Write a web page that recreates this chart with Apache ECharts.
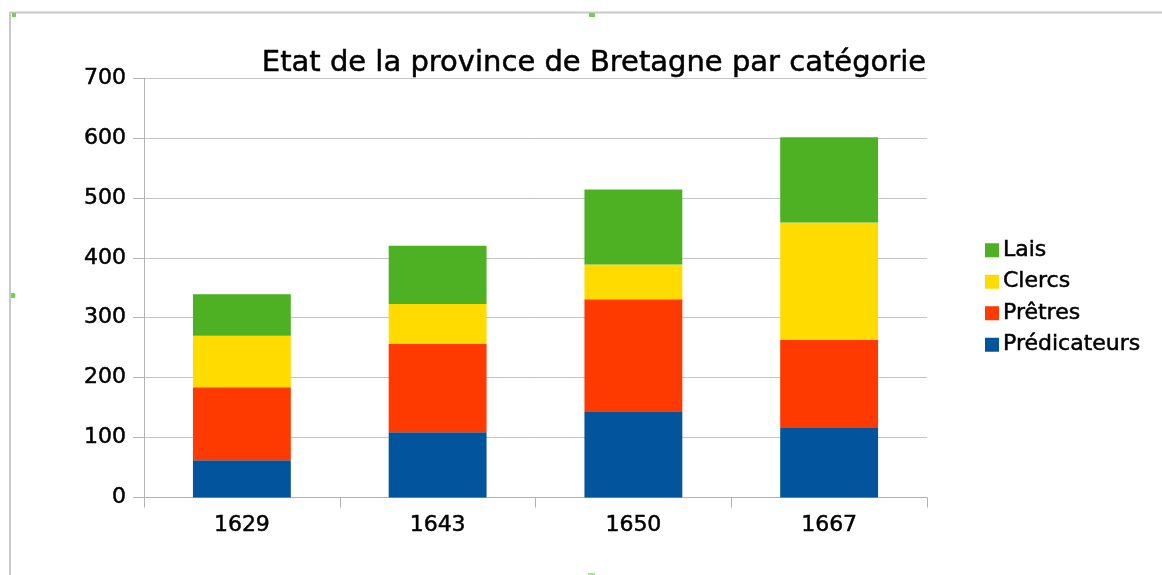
<!DOCTYPE html>
<html>
<head>
<meta charset="utf-8">
<script src="https://cdn.jsdelivr.net/npm/echarts@6/dist/echarts.min.js"></script>
<style>
  html, body { margin: 0; padding: 0; background: #fff; }
  #chart { width: 1162px; height: 575px; }
</style>
</head>
<body>
<div id="chart"></div>
<script>
  // données
  const years = ['1629', '1643', '1650', '1667']
  const predicateurs = [62, 109, 144, 116]
  const pretres = [122, 147, 187, 147]
  const clercs = [86, 67, 58, 196]
  const lais = [69, 97, 125, 142]
  const yTicks = [0, 100, 200, 300, 400, 500, 600, 700]

  const colors = {
    predicateurs: '#02559c',
    pretres: '#ff3a00',
    clercs: '#ffdb00',
    lais: '#4db123'
  }

  const font = 'DejaVu Sans, Arial, sans-serif'
  // léger épaississement du texte, comme sur l'original
  const txt = (size) => ({
    fontFamily: font,
    fontSize: size,
    color: '#000',
    textBorderColor: '#000',
    textBorderWidth: 0.5
  })

  const chart = echarts.init(document.getElementById('chart'))

  const mkSeries = (name, data, color) => ({
    name,
    type: 'bar',
    stack: 'total',
    data,
    barWidth: '50%',
    itemStyle: { color },
    emphasis: { disabled: true }
  })

  const option = {
    animation: false,
    title: {
      text: 'Etat de la province de Bretagne par catégorie',
      left: 589,
      textAlign: 'center',
      top: 44,
      textStyle: { ...txt(29), fontWeight: 'normal' }
    },
    legend: {
      orient: 'vertical',
      left: 980,
      top: 234,
      itemWidth: 14,
      itemHeight: 14,
      itemGap: 9,
      icon: 'rect',
      data: ['Lais', 'Clercs', 'Prêtres', 'Prédicateurs'],
      textStyle: { ...txt(22), padding: [0, 0, 0, -1] }
    },
    grid: {
      left: 144,
      right: 1162 - 927,
      top: 78,
      bottom: 575 - 497.5
    },
    xAxis: {
      type: 'category',
      data: years,
      axisLine: { lineStyle: { color: '#b3b3b3' } },
      axisTick: { show: true, alignWithLabel: false, length: 10, lineStyle: { color: '#b3b3b3' } },
      axisLabel: { ...txt(22), margin: 17 }
    },
    yAxis: {
      type: 'value',
      min: yTicks[0],
      max: yTicks[yTicks.length - 1],
      interval: 100,
      axisLine: { show: true, lineStyle: { color: '#b3b3b3' } },
      axisTick: { show: true, length: 11, lineStyle: { color: '#b3b3b3' } },
      axisLabel: { ...txt(22), margin: 18 },
      splitLine: { lineStyle: { color: '#c4c4c4' } }
    },
    series: [
      mkSeries('Prédicateurs', predicateurs, colors.predicateurs),
      mkSeries('Prêtres', pretres, colors.pretres),
      mkSeries('Clercs', clercs, colors.clercs),
      mkSeries('Lais', lais, colors.lais)
    ],
    graphic: [
      { type: 'line', shape: { x1: 10, y1: 12.5, x2: 1162, y2: 12.5 }, style: { stroke: '#c8c8c8', lineWidth: 2 } },
      { type: 'line', shape: { x1: 10, y1: 12, x2: 10, y2: 575 }, style: { stroke: '#c8c8c8', lineWidth: 2 } },
      { type: 'rect', shape: { x: 12, y: 13, width: 4, height: 4 }, style: { fill: '#6ad84a' } },
      { type: 'rect', shape: { x: 589, y: 13, width: 6, height: 4 }, style: { fill: '#6ad84a' } },
      { type: 'rect', shape: { x: 11, y: 293, width: 4, height: 5 }, style: { fill: '#6ad84a' } },
      { type: 'rect', shape: { x: 588, y: 573, width: 7, height: 2 }, style: { fill: '#a8e890' } }
    ]
  }

  chart.setOption(option)
</script>
</body>
</html>
